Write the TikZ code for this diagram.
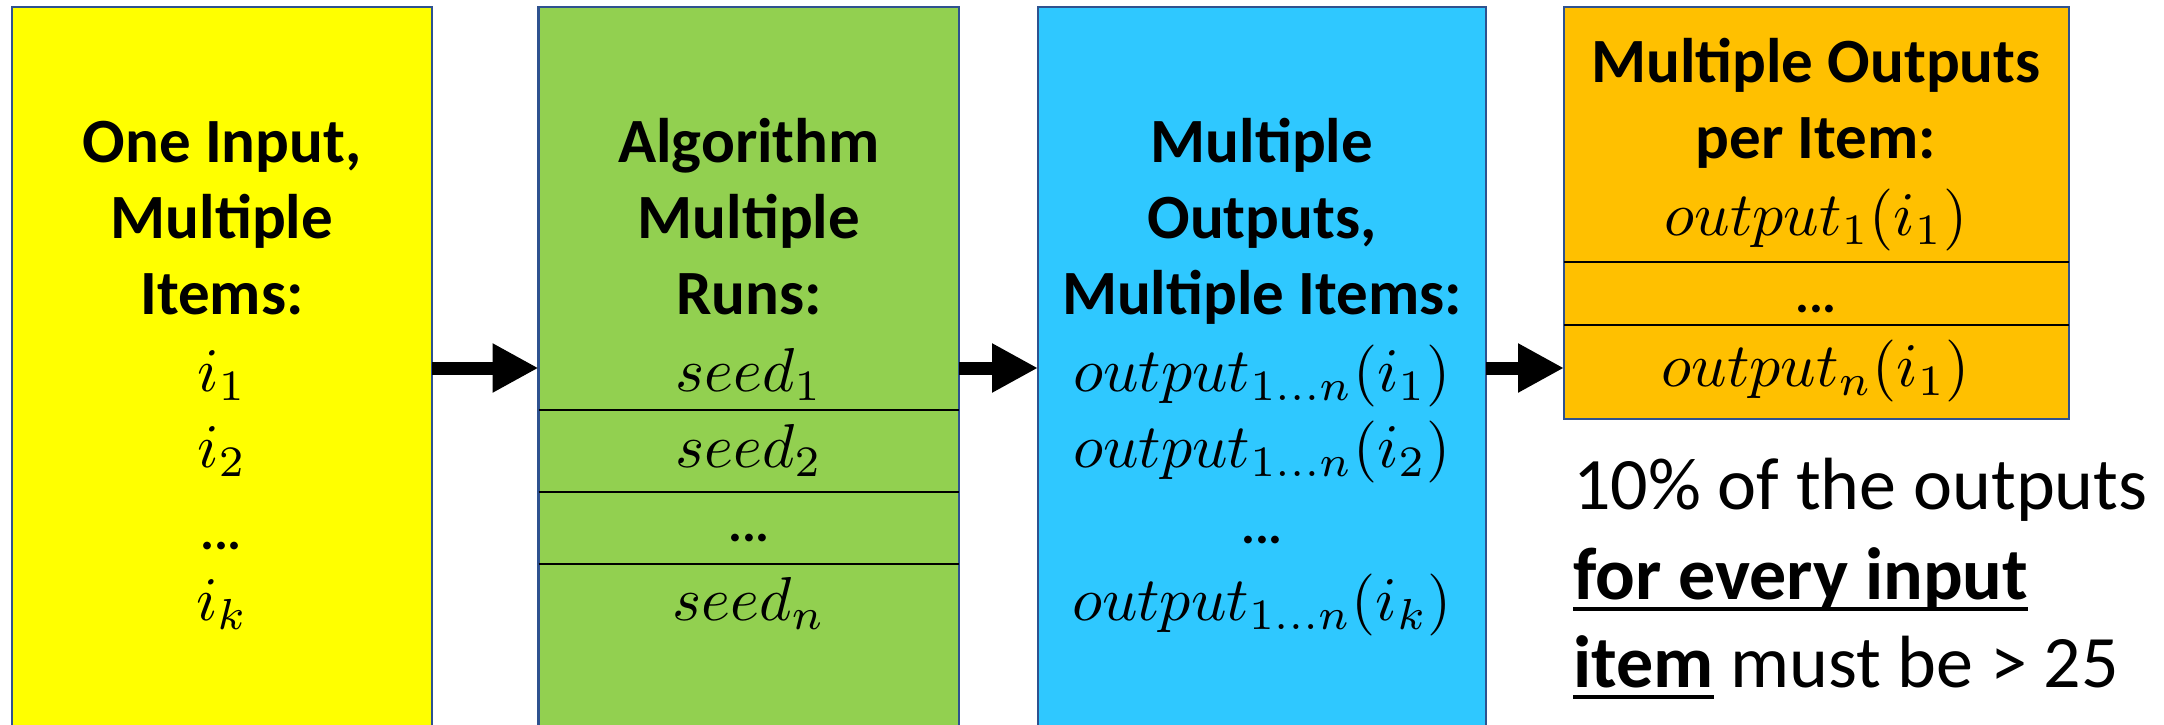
\documentclass[tikz,border=0pt]{standalone}
\usepackage{graphicx}
\usepackage{fontspec}
\setmainfont{Carlito}
\usetikzlibrary{arrows.meta}
\definecolor{bordc}{RGB}{47,82,143}
\definecolor{yel}{RGB}{255,255,0}
\definecolor{grn}{RGB}{146,208,80}
\definecolor{blu}{RGB}{47,200,255}
\definecolor{org}{RGB}{255,192,0}
\newsavebox\myulbox
\newcommand{\myul}[1]{\sbox\myulbox{#1}\rlap{\rule[-12pt]{\wd\myulbox}{4.5pt}}\usebox\myulbox}
\newcommand{\mymath}[1]{\scalebox{6.2}{$#1$}}
\tikzset{
  box/.style={draw=bordc, line width=2.3pt, anchor=north west, inner sep=0pt, outer sep=0pt},
  ttl/.style={anchor=base, inner sep=0pt, font=\fontsize{63}{76}\selectfont\bfseries},
  mth/.style={anchor=base, inner sep=0pt, font=\normalsize},
  dts/.style={anchor=base, inner sep=0pt, font=\fontsize{52}{60}\selectfont\bfseries},
  note/.style={anchor=base west, inner sep=0pt, font=\fontsize{74}{89}\selectfont},
  dv/.style={line width=2.3pt, black},
  arr/.style={line width=13pt, -{Triangle[length=46pt,width=46pt]}}
}
\begin{document}
\begin{tikzpicture}[x=1pt,y=-1pt]
\useasboundingbox (0,0) rectangle (2164,725);
\clip (0,0) rectangle (2164,725);
% boxes
\node[box, fill=yel, minimum width=420pt, minimum height=760pt] (Y) at (12,7) {};
\node[box, fill=grn, minimum width=420.5pt, minimum height=760pt] (G) at (538.5,7) {};
\node[box, fill=blu, minimum width=448pt, minimum height=760pt] (B) at (1038,7) {};
\node[box, fill=org, minimum width=505pt, minimum height=412pt] (O) at (1564,7) {};
% dividers
\draw[dv] (G.west |- 0,410) -- (G.east |- 0,410);
\draw[dv] (G.west |- 0,492) -- (G.east |- 0,492);
\draw[dv] (G.west |- 0,564) -- (G.east |- 0,564);
\draw[dv] (O.west |- 0,262) -- (O.east |- 0,262);
\draw[dv] (O.west |- 0,325) -- (O.east |- 0,325);
% arrows
\coordinate (ay) at (0,368);
\draw[arr] (Y.east |- ay) -- (G.west |- ay);
\draw[arr] (G.east |- ay) -- (B.west |- ay);
\draw[arr] (B.east |- ay) -- (O.west |- ay);
% yellow text
\node[ttl] (y1) at (222,162) {One Input,};
\node[ttl] (y2) at (222,238) {Multiple};
\node[ttl] (y3) at (222,314) {Items:};
\node[mth] (y4) at (222,391) {\mymath{i_1}};
\node[mth] (y5) at (222,467) {\mymath{i_2}};
\node[dts] (y6) at (222,549) {\itshape ...};
\node[mth] (y7) at (222,620) {\mymath{i_k}};
% green text
\node[ttl] (g1) at (749,162) {Algorithm};
\node[ttl] (g2) at (749,238) {Multiple};
\node[ttl] (g3) at (749,314) {Runs:};
\node[mth] (g4) at (749,391) {\mymath{seed_1}};
\node[mth] (g5) at (749,467) {\mymath{seed_2}};
\node[dts] (g6) at (749,541) {...};
\node[mth] (g7) at (749,620) {\mymath{seed_n}};
% blue text
\node[ttl] (b1) at (1262,162) {Multiple};
\node[ttl] (b2) at (1262,238) {Outputs,};
\node[ttl] (b3) at (1262,314) {Multiple Items:};
\node[mth] (b4) at (1262,391) {\mymath{output_{1\ldots n}(i_1)}};
\node[mth] (b5) at (1262,467) {\mymath{output_{1\ldots n}(i_2)}};
\node[dts] (b6) at (1262,543) {...};
\node[mth] (b7) at (1262,620) {\mymath{output_{1\ldots n}(i_k)}};
% orange text
\node[ttl] (o1) at (1816,82) {Multiple Outputs};
\node[ttl] (o2) at (1816,158) {per Item:};
\node[mth] (o3) at (1816,235) {\mymath{output_1(i_1)}};
\node[dts] (o4) at (1816,312) {...};
\node[mth] (o5) at (1816,386) {\mymath{output_n(i_1)}};
% note
\node[note] (n1) at (1573,509) {10\% of the outputs};
\node[note] (n2) at (1573,599) {\myul{\bfseries for every input}};
\node[note] (n3) at (1573,687) {\myul{\bfseries item} must be > 25};
\end{tikzpicture}
\end{document}
